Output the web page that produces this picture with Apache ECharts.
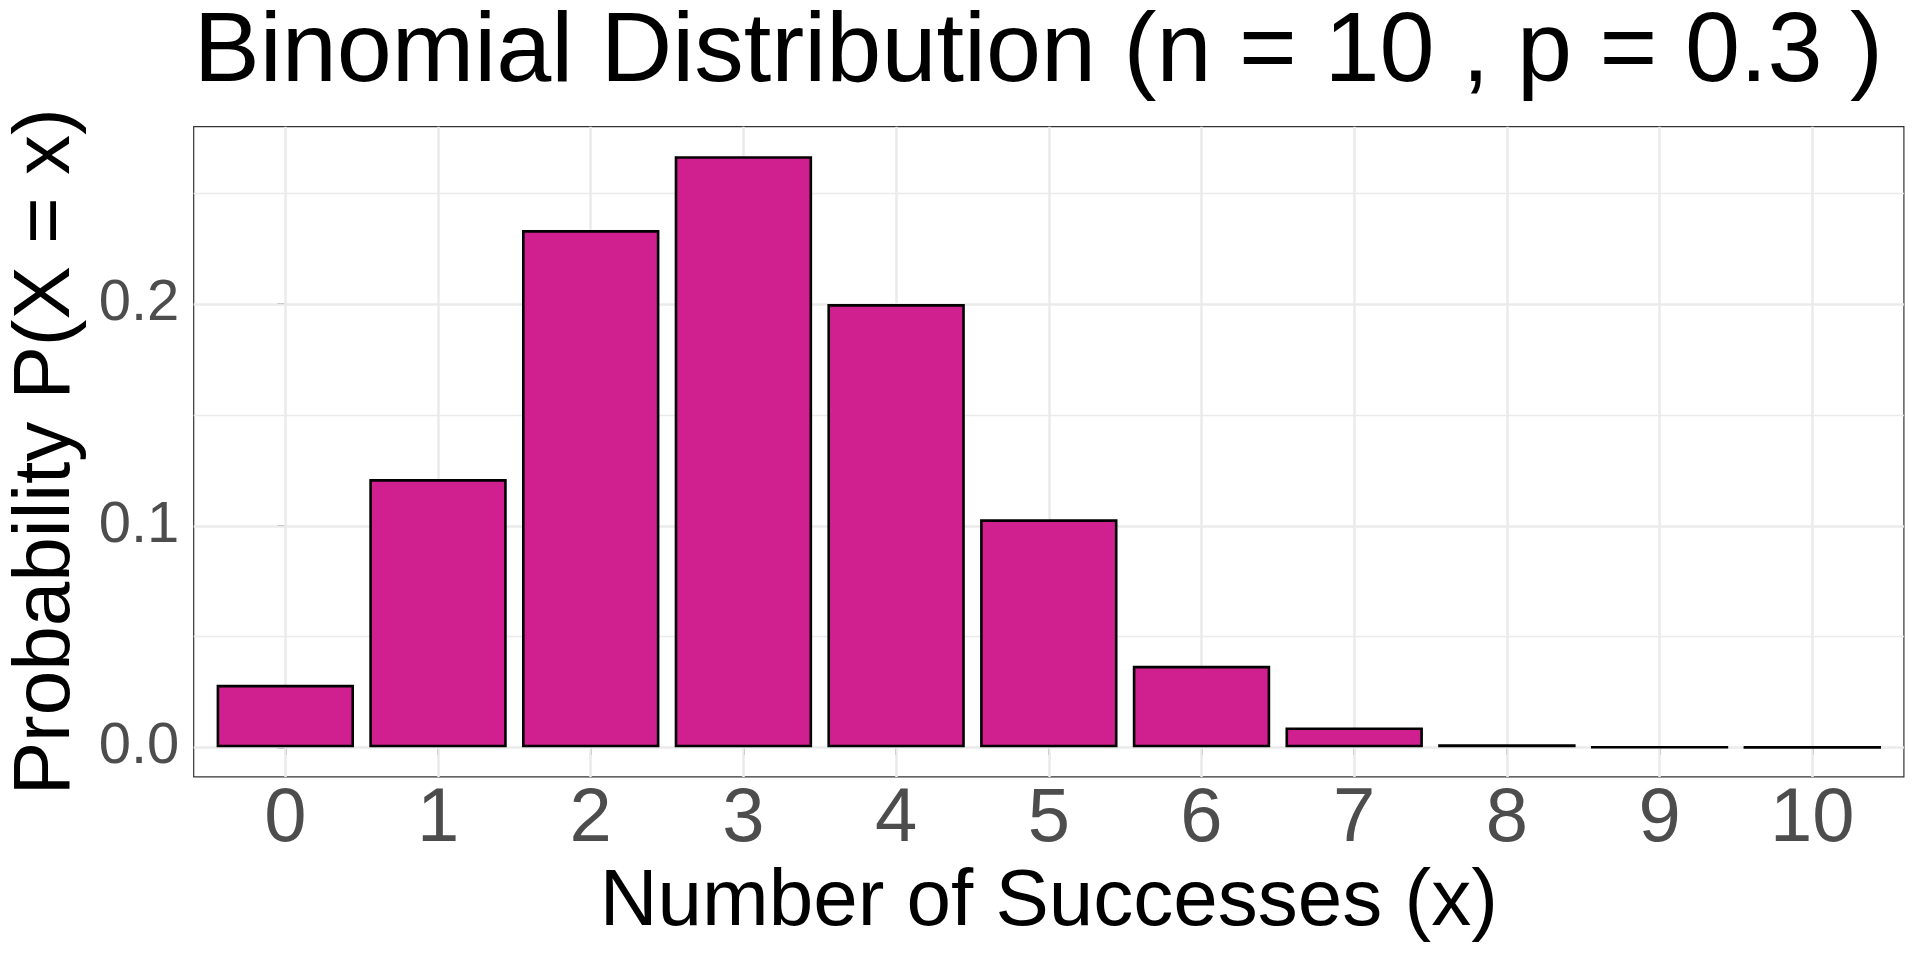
<!DOCTYPE html>
<html>
<head>
<meta charset="utf-8">
<script src="https://cdn.jsdelivr.net/npm/echarts@6/dist/echarts.min.js"></script>
<style>
html,body{margin:0;padding:0;background:#fff;}
#chart{width:1920px;height:960px;}
</style>
</head>
<body>
<div id="chart"></div>
<script>
// ---- data ----
const successes = [0, 1, 2, 3, 4, 5, 6, 7, 8, 9, 10];
const probabilities = [0.0282, 0.1211, 0.2335, 0.2668, 0.2001, 0.1029, 0.0368, 0.0090, 0.0014, 0.0001, 0.0000];
const xTicks = [0, 1, 2, 3, 4, 5, 6, 7, 8, 9, 10];
const yTicks = [0, 0.1, 0.2];
const yMinor = [0.05, 0.15, 0.25];
const titleText = 'Binomial Distribution (n = 10 , p = 0.3 )';
const xTitle = 'Number of Successes (x)';
const yTitle = 'Probability P(X = x)';

// ggplot-like expansion
const pMax = Math.max(...probabilities);
const yMin = -0.05 * pMax, yMax = 1.05 * pMax;
const xMin = xTicks[0] - 0.6, xMax = xTicks[xTicks.length - 1] + 0.6;

const FONT = '"Liberation Sans", Arial, Helvetica, sans-serif';
const chart = echarts.init(document.getElementById('chart'), null, {renderer: 'canvas'});

const gridLines = [];
xTicks.forEach(v => gridLines.push({xAxis: v, lineStyle: {width: 2.6}}));
yTicks.forEach(v => gridLines.push({yAxis: v, lineStyle: {width: 2.6}}));
yMinor.forEach(v => gridLines.push({yAxis: v, lineStyle: {width: 1.3}}));

chart.setOption({
  animation: false,
  backgroundColor: '#ffffff',
  title: {
    text: titleText,
    left: 193.7,
    top: 4.5,
    padding: 0,
    textStyle: {fontFamily: FONT, fontSize: 99, fontWeight: 'normal', color: '#000', lineHeight: 99}
  },
  grid: {
    left: 193.7, right: 16.1, top: 126.7, bottom: 183.1,
    show: true, borderColor: '#333333', borderWidth: 1.2, backgroundColor: 'transparent',
    containLabel: false, outerBoundsMode: 'none'
  },
  xAxis: {
    type: 'value', min: xMin, max: xMax,
    name: xTitle, nameLocation: 'middle', nameGap: 82.7,
    nameTextStyle: {fontFamily: FONT, fontSize: 80, color: '#000', lineHeight: 80},
    axisLine: {show: false},
    splitLine: {show: false},
    axisTick: {show: true, customValues: xTicks, length: 7.7, lineStyle: {color: '#333333', width: 1.5}},
    axisLabel: {show: true, customValues: xTicks, margin: 5, fontFamily: FONT, fontSize: 76, color: '#4D4D4D', lineHeight: 76,
      formatter: v => String(Math.round(v))}
  },
  yAxis: {
    type: 'value', min: yMin, max: yMax,
    name: yTitle, nameLocation: 'middle', nameGap: 107, nameRotate: 90,
    nameTextStyle: {fontFamily: FONT, fontSize: 80, color: '#000', lineHeight: 80},
    axisLine: {show: false},
    splitLine: {show: false},
    axisTick: {show: true, customValues: yTicks, length: 7.7, lineStyle: {color: '#333333', width: 1.5}},
    axisLabel: {show: true, customValues: yTicks, margin: 14.4, fontFamily: FONT, fontSize: 58, color: '#4D4D4D',
      formatter: v => v.toFixed(1)}
  },
  series: [
    {
      type: 'line', data: [], z: 1, silent: true,
      markLine: {
        z: 1, silent: true, symbol: ['none', 'none'], animation: false,
        label: {show: false},
        lineStyle: {color: '#EBEBEB', type: 'solid'},
        emphasis: {disabled: true},
        data: gridLines
      }
    },
    {
      type: 'bar', z: 2,
      barWidth: '90%',
      data: successes.map((x, i) => [x, probabilities[i]]),
      itemStyle: {color: '#D02090', borderColor: '#000000', borderWidth: 2.6},
      emphasis: {disabled: true}
    }
  ]
});
</script>
</body>
</html>
